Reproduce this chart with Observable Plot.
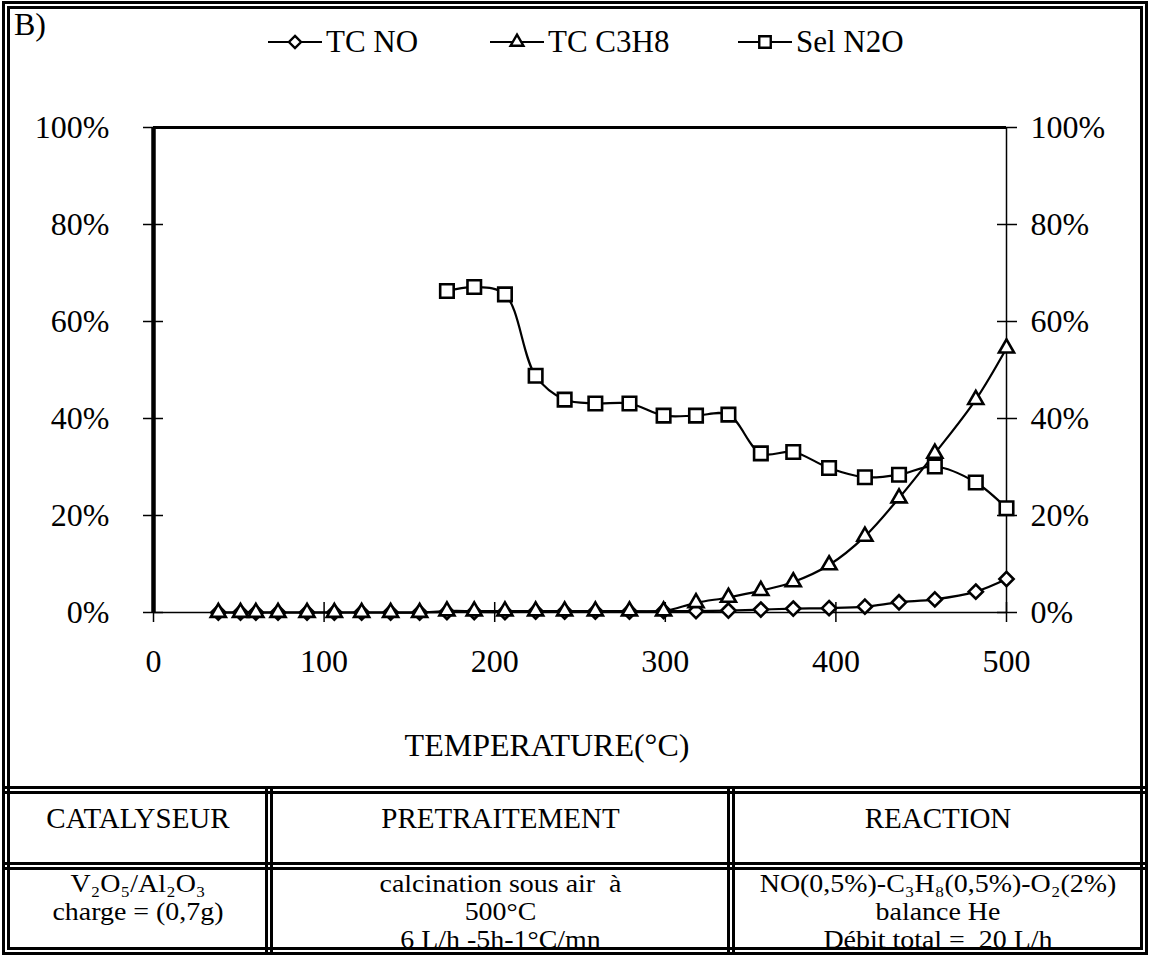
<!DOCTYPE html>
<html><head><meta charset="utf-8">
<script src="https://cdn.jsdelivr.net/npm/d3@7"></script>
<script src="https://cdn.jsdelivr.net/npm/@observablehq/plot@0.6"></script>
<style>
body{margin:0;background:#fff;font-family:"Liberation Serif",serif;color:#000}
#wrap{position:relative;width:1150px;height:955px;overflow:hidden;background:#fff}
.box{position:absolute;box-sizing:border-box}
#frame{left:2px;top:1px;width:1146px;height:954px;border:8px double #000}
.hline{left:2px;width:1146px;height:8px;border-top:8px double #000}
.vline{top:786px;height:168px;width:8px;border-left:8px double #000}
#chart{position:absolute;left:0;top:0}
#tag{position:absolute;left:14px;top:6px;font-size:32px}
.leg{position:absolute;top:24px;height:36px;display:flex;align-items:center;font-size:31px;white-space:nowrap}
.leg svg{margin-right:4px}
.cell{position:absolute;text-align:center;white-space:nowrap}
.hd{font-size:29px;line-height:30px}
.r2{font-size:24.5px;line-height:28.2px;top:870px;transform:scaleX(1.14);transform-origin:50% 50%}
</style></head>
<body>
<div id="wrap">
  <div id="chart"></div>
  <div class="box" id="frame"></div>
  <div class="box hline" style="top:786px"></div>
  <div class="box hline" style="top:862px"></div>
  <div class="box vline" style="left:265px"></div>
  <div class="box vline" style="left:727px"></div>
  <div id="tag">B)</div>
  <div id="legend"></div>
  <div class="cell hd" style="left:10px;width:256px;top:803px">CATALYSEUR</div>
  <div class="cell hd" style="left:273px;width:455px;top:803px">PRETRAITEMENT</div>
  <div class="cell hd" style="left:735px;width:406px;top:803px">REACTION</div>
  <div class="cell r2" style="left:10px;width:256px">V₂O₅/Al₂O₃<br>charge = (0,7g)</div>
  <div class="cell r2" style="left:273px;width:455px">calcination sous air&nbsp; à<br>500°C<br>6 L/h -5h-1°C/mn</div>
  <div class="cell r2" style="left:735px;width:406px">NO(0,5%)-C₃H₈(0,5%)-O₂(2%)<br>balance He<br>Débit total =&nbsp; 20 L/h</div>
</div>
<script>
// ---- data ----
const temperature = [38, 51, 60, 73, 90, 106, 122, 139, 156, 172, 188, 206, 224, 241, 259, 279, 299, 318, 337, 356, 375, 396, 417, 437, 458, 482, 500];
const tcNO   = [0, 0, 0, 0, 0, 0, 0, 0, 0, 0.1, 0.1, 0.1, 0.2, 0.2, 0.2, 0.2, 0.3, 0.3, 0.4, 0.6, 0.8, 0.9, 1.2, 2.1, 2.7, 4.3, 6.9];
const tcC3H8 = [0, 0, 0, 0, 0, 0, 0, 0, 0, 0.3, 0.3, 0.3, 0.3, 0.3, 0.3, 0.3, 0.3, 2.0, 3.1, 4.5, 6.3, 9.8, 15.7, 23.6, 32.8, 43.9, 54.5];
const selTemperature = [172, 188, 206, 224, 241, 259, 279, 299, 318, 337, 356, 375, 396, 417, 437, 458, 482, 500];
const selN2O = [66.3, 67.1, 65.6, 48.8, 43.9, 43.1, 43.1, 40.6, 40.6, 40.8, 32.8, 33.1, 29.8, 27.9, 28.4, 30.1, 26.8, 21.5];
const seriesNames = ["TC NO", "TC C3H8", "Sel N2O"];
const seriesSymbols = ["diamond2", "triangle2", "square2"];
const seriesR = [6.4, 7.2, 8.6];
const xTicks = [0, 100, 200, 300, 400, 500];
const yTicks = [0, 20, 40, 60, 80, 100];
const xLabel = "TEMPERATURE(°C)";

const noData = temperature.map((t, i) => ({t, v: tcNO[i]}));
const c3Data = temperature.map((t, i) => ({t, v: tcC3H8[i]}));
const selData = selTemperature.map((t, i) => ({t, v: selN2O[i]}));
const pct = d => d + "%";
const FONT = "Liberation Serif, serif";

function series(data, k) {
  return [
    Plot.line(data, {x: "t", y: "v", curve: "catmull-rom", stroke: "black", strokeWidth: 2.2}),
    Plot.dot(data, {x: "t", y: "v", symbol: seriesSymbols[k], r: seriesR[k], stroke: "black", fill: "white", strokeWidth: 2.6})
  ];
}

const chart = Plot.plot({
  width: 1150, height: 786,
  marginLeft: 153, marginRight: 144, marginTop: 127, marginBottom: 174,
  style: {fontFamily: FONT, fontSize: "32px", background: "transparent", color: "#000", overflow: "visible"},
  x: {domain: [0, 500]},
  y: {domain: [0, 100]},
  marks: [
    Plot.axisY(yTicks, {anchor: "left", tickSize: 10, tickPadding: 34, tickFormat: pct, label: null, fontSize: 32, strokeWidth: 1.5}),
    Plot.axisY(yTicks, {anchor: "left", tickSize: 10, dx: 10, fill: "none", label: null, strokeWidth: 1.5}),
    Plot.axisY(yTicks, {anchor: "right", tickSize: 10, tickPadding: 14, tickFormat: pct, label: null, fontSize: 32, strokeWidth: 1.5}),
    Plot.axisY(yTicks, {anchor: "right", tickSize: 10, dx: -10, fill: "none", label: null, strokeWidth: 1.5}),
    Plot.axisX(xTicks, {anchor: "bottom", tickSize: 10, tickPadding: 27, label: null, fontSize: 32, strokeWidth: 1.5}),
    Plot.axisX(xTicks, {anchor: "bottom", tickSize: 10, dy: -10, fill: "none", label: null, strokeWidth: 1.5}),
    Plot.ruleY([0], {stroke: "black", strokeWidth: 1.5}),
    Plot.ruleX([500], {stroke: "black", strokeWidth: 1.5}),
    Plot.ruleY([100], {stroke: "black", strokeWidth: 3}),
    Plot.ruleX([0], {stroke: "black", strokeWidth: 4.5}),
    ...series(noData, 0),
    ...series(c3Data, 1),
    ...series(selData, 2),
    Plot.text([xLabel], {frameAnchor: "bottom", dy: 133, dx: -33, lineAnchor: "middle", fontSize: 32})
  ]
});
document.getElementById("chart").appendChild(chart);

// legend
const legendLeft = [268, 490, 738];
const legend = document.getElementById("legend");
seriesNames.forEach((name, k) => {
  const div = document.createElement("div");
  div.className = "leg";
  div.style.left = legendLeft[k] + "px";
  const svg = d3.create("svg").attr("width", 54).attr("height", 30);
  svg.append("line").attr("x1", 0).attr("x2", 54).attr("y1", 15).attr("y2", 15).attr("stroke", "black").attr("stroke-width", 2.2);
  const sym = {diamond2: d3.symbolDiamond2, triangle2: d3.symbolTriangle2, square2: d3.symbolSquare2}[seriesSymbols[k]];
  const r = seriesR[k] * 0.85;
  svg.append("path").attr("transform", "translate(27,15)")
    .attr("d", d3.symbol(sym, Math.PI * r * r)())
    .attr("fill", "white").attr("stroke", "black").attr("stroke-width", 2.4);
  div.appendChild(svg.node());
  const span = document.createElement("span");
  span.textContent = name;
  div.appendChild(span);
  legend.appendChild(div);
});
</script>
</body></html>
